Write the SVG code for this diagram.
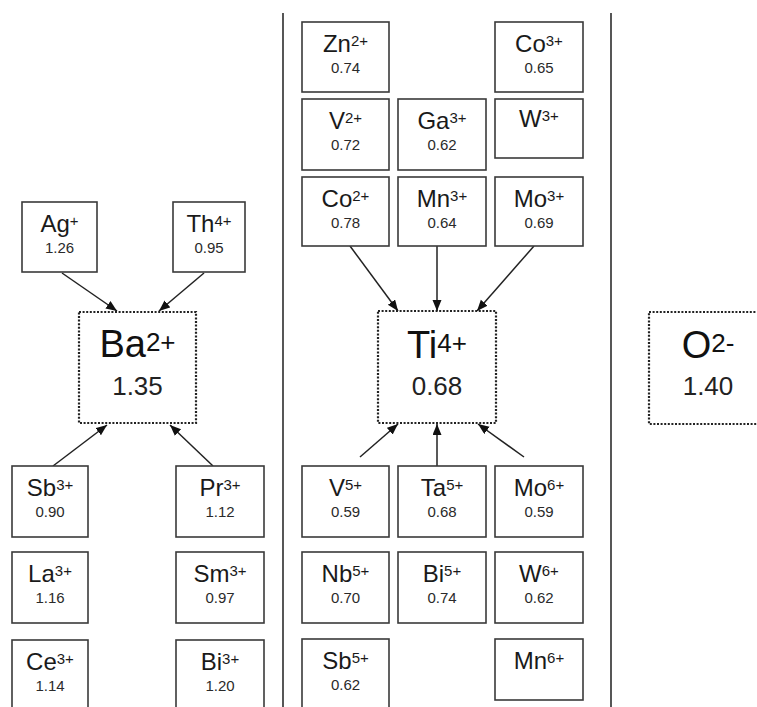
<svg xmlns="http://www.w3.org/2000/svg" width="757" height="707" viewBox="0 0 757 707">
<defs>
<style>
.box{fill:#fff;stroke:#3a3a3a;stroke-width:1.6}
.main{fill:#fff;stroke:#222;stroke-width:2.2;stroke-dasharray:2 1.6}
.sym{font-family:"Liberation Sans",Arial,sans-serif;font-size:24px;fill:#1a1a1a;text-anchor:middle}
.sup{font-size:15px}
.num{font-family:"Liberation Sans",Arial,sans-serif;font-size:15px;fill:#2a2a2a;text-anchor:middle}
.bsym{font-family:"Liberation Sans",Arial,sans-serif;font-size:38px;fill:#111;text-anchor:middle}
.bsup{font-size:26px}
.bnum{font-family:"Liberation Sans",Arial,sans-serif;font-size:26px;fill:#222;text-anchor:middle}
.div{stroke:#444;stroke-width:1.8}
.con{stroke:#222;stroke-width:1.5;fill:none;marker-end:url(#ah)}
</style>
<marker id="ah" markerUnits="userSpaceOnUse" markerWidth="12" markerHeight="10" refX="11" refY="4.5" orient="auto">
<path d="M0,0 L11,4.5 L0,9 z" fill="#111"/>
</marker>
</defs>
<rect width="757" height="707" fill="#fff"/>
<g id="dividers">
<line class="div" x1="283" y1="13" x2="283" y2="707"/>
<line class="div" x1="611" y1="13" x2="611" y2="707"/>
</g>
<g id="connectors">
<line class="con" x1="62" y1="273" x2="117" y2="311"/>
<line class="con" x1="204" y1="273" x2="159" y2="311"/>
<line class="con" x1="53" y1="466" x2="107" y2="425"/>
<line class="con" x1="213" y1="466" x2="170" y2="425"/>
<line class="con" x1="350" y1="246" x2="398" y2="311"/>
<line class="con" x1="437" y1="246" x2="437" y2="311"/>
<line class="con" x1="534" y1="246" x2="477" y2="311"/>
<line class="con" x1="360" y1="457" x2="398" y2="424"/>
<line class="con" x1="437" y1="466" x2="437" y2="424"/>
<line class="con" x1="524" y1="457" x2="478" y2="424"/>
</g>
<g id="Ba">
<rect class="main" x="79" y="312" width="117" height="111"/>
<text class="bsym" x="137.5" y="357">Ba<tspan class="bsup" dy="-6">2+</tspan></text>
<text class="bnum" x="137.5" y="395">1.35</text>
</g>
<g id="Ti">
<rect class="main" x="378" y="311" width="118" height="112"/>
<text class="bsym" x="437" y="358">Ti<tspan class="bsup" dy="-6">4+</tspan></text>
<text class="bnum" x="437" y="395">0.68</text>
</g>
<g id="O">
<rect class="main" x="649" y="312" width="120" height="112"/>
<text class="bsym" x="708" y="358">O<tspan class="bsup" dy="-6">2-</tspan></text>
<text class="bnum" x="708" y="395">1.40</text>
</g>
<g id="Ag">
<rect class="box" x="22" y="202" width="75" height="70"/>
<text class="sym" x="59.5" y="232">Ag<tspan class="sup" dy="-6">+</tspan></text>
<text class="num" x="59.5" y="253">1.26</text>
</g>
<g id="Th">
<rect class="box" x="173" y="202" width="72" height="70"/>
<text class="sym" x="209" y="232">Th<tspan class="sup" dy="-6">4+</tspan></text>
<text class="num" x="209" y="253">0.95</text>
</g>
<g id="Sb3">
<rect class="box" x="12" y="466" width="76" height="71"/>
<text class="sym" x="50" y="496">Sb<tspan class="sup" dy="-6">3+</tspan></text>
<text class="num" x="50" y="517">0.90</text>
</g>
<g id="La3">
<rect class="box" x="12" y="552" width="76" height="71"/>
<text class="sym" x="50" y="582">La<tspan class="sup" dy="-6">3+</tspan></text>
<text class="num" x="50" y="603">1.16</text>
</g>
<g id="Ce3">
<rect class="box" x="12" y="640" width="76" height="75"/>
<text class="sym" x="50" y="670">Ce<tspan class="sup" dy="-6">3+</tspan></text>
<text class="num" x="50" y="691">1.14</text>
</g>
<g id="Pr3">
<rect class="box" x="176" y="466" width="88" height="71"/>
<text class="sym" x="220" y="496">Pr<tspan class="sup" dy="-6">3+</tspan></text>
<text class="num" x="220" y="517">1.12</text>
</g>
<g id="Sm3">
<rect class="box" x="176" y="552" width="88" height="71"/>
<text class="sym" x="220" y="582">Sm<tspan class="sup" dy="-6">3+</tspan></text>
<text class="num" x="220" y="603">0.97</text>
</g>
<g id="Bi3">
<rect class="box" x="176" y="640" width="88" height="75"/>
<text class="sym" x="220" y="670">Bi<tspan class="sup" dy="-6">3+</tspan></text>
<text class="num" x="220" y="691">1.20</text>
</g>
<g id="Zn2">
<rect class="box" x="302" y="22" width="87" height="70"/>
<text class="sym" x="345.5" y="52">Zn<tspan class="sup" dy="-6">2+</tspan></text>
<text class="num" x="345.5" y="73">0.74</text>
</g>
<g id="Co3">
<rect class="box" x="495" y="22" width="88" height="70"/>
<text class="sym" x="539" y="52">Co<tspan class="sup" dy="-6">3+</tspan></text>
<text class="num" x="539" y="73">0.65</text>
</g>
<g id="V2">
<rect class="box" x="302" y="99" width="87" height="71"/>
<text class="sym" x="345.5" y="129">V<tspan class="sup" dy="-6">2+</tspan></text>
<text class="num" x="345.5" y="150">0.72</text>
</g>
<g id="Ga3">
<rect class="box" x="398" y="99" width="88" height="71"/>
<text class="sym" x="442" y="129">Ga<tspan class="sup" dy="-6">3+</tspan></text>
<text class="num" x="442" y="150">0.62</text>
</g>
<g id="W3">
<rect class="box" x="495" y="99" width="88" height="59"/>
<text class="sym" x="539" y="127">W<tspan class="sup" dy="-6">3+</tspan></text>
</g>
<g id="Co2">
<rect class="box" x="302" y="177" width="87" height="69"/>
<text class="sym" x="345.5" y="207">Co<tspan class="sup" dy="-6">2+</tspan></text>
<text class="num" x="345.5" y="228">0.78</text>
</g>
<g id="Mn3">
<rect class="box" x="398" y="177" width="88" height="69"/>
<text class="sym" x="442" y="207">Mn<tspan class="sup" dy="-6">3+</tspan></text>
<text class="num" x="442" y="228">0.64</text>
</g>
<g id="Mo3">
<rect class="box" x="495" y="177" width="88" height="69"/>
<text class="sym" x="539" y="207">Mo<tspan class="sup" dy="-6">3+</tspan></text>
<text class="num" x="539" y="228">0.69</text>
</g>
<g id="V5">
<rect class="box" x="302" y="466" width="87" height="71"/>
<text class="sym" x="345.5" y="496">V<tspan class="sup" dy="-6">5+</tspan></text>
<text class="num" x="345.5" y="517">0.59</text>
</g>
<g id="Ta5">
<rect class="box" x="398" y="466" width="88" height="71"/>
<text class="sym" x="442" y="496">Ta<tspan class="sup" dy="-6">5+</tspan></text>
<text class="num" x="442" y="517">0.68</text>
</g>
<g id="Mo6">
<rect class="box" x="495" y="466" width="88" height="71"/>
<text class="sym" x="539" y="496">Mo<tspan class="sup" dy="-6">6+</tspan></text>
<text class="num" x="539" y="517">0.59</text>
</g>
<g id="Nb5">
<rect class="box" x="302" y="552" width="87" height="71"/>
<text class="sym" x="345.5" y="582">Nb<tspan class="sup" dy="-6">5+</tspan></text>
<text class="num" x="345.5" y="603">0.70</text>
</g>
<g id="Bi5">
<rect class="box" x="398" y="552" width="88" height="71"/>
<text class="sym" x="442" y="582">Bi<tspan class="sup" dy="-6">5+</tspan></text>
<text class="num" x="442" y="603">0.74</text>
</g>
<g id="W6">
<rect class="box" x="495" y="552" width="88" height="71"/>
<text class="sym" x="539" y="582">W<tspan class="sup" dy="-6">6+</tspan></text>
<text class="num" x="539" y="603">0.62</text>
</g>
<g id="Sb5">
<rect class="box" x="302" y="639" width="87" height="76"/>
<text class="sym" x="345.5" y="669">Sb<tspan class="sup" dy="-6">5+</tspan></text>
<text class="num" x="345.5" y="690">0.62</text>
</g>
<g id="Mn6">
<rect class="box" x="495" y="639" width="88" height="61"/>
<text class="sym" x="539" y="669">Mn<tspan class="sup" dy="-6">6+</tspan></text>
</g>
</svg>
